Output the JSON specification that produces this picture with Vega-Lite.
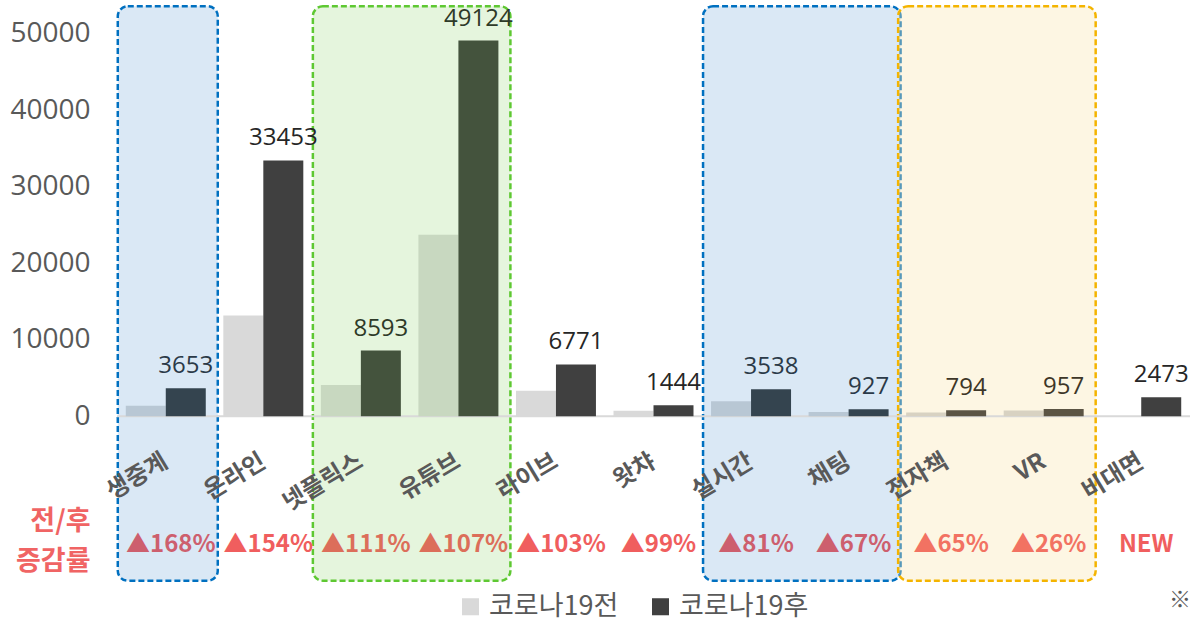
{
  "$schema": "https://vega.github.io/schema/vega-lite/v6.json",
  "autosize": {"type": "none"},
  "padding": {"left": 117, "top": 4, "right": 0, "bottom": 40},
  "width": 1073,
  "height": 579,
  "background": "white",
  "config": {"view": {"stroke": null}, "font": "Noto Sans CJK KR"},
  "title": {"text": "※", "orient": "bottom", "anchor": "end", "fontSize": 22, "fontWeight": "normal", "color": "#595959", "offset": -30},
  "datasets": {
    "bars": [
      {"cat": "생중계", "period": "코로나19전", "value": 1363, "theme": "blue"},
      {"cat": "생중계", "period": "코로나19후", "value": 3653, "theme": "blue"},
      {"cat": "온라인", "period": "코로나19전", "value": 13170, "theme": "none"},
      {"cat": "온라인", "period": "코로나19후", "value": 33453, "theme": "none"},
      {"cat": "넷플릭스", "period": "코로나19전", "value": 4073, "theme": "green"},
      {"cat": "넷플릭스", "period": "코로나19후", "value": 8593, "theme": "green"},
      {"cat": "유튜브", "period": "코로나19전", "value": 23731, "theme": "green"},
      {"cat": "유튜브", "period": "코로나19후", "value": 49124, "theme": "green"},
      {"cat": "라이브", "period": "코로나19전", "value": 3335, "theme": "none"},
      {"cat": "라이브", "period": "코로나19후", "value": 6771, "theme": "none"},
      {"cat": "왓챠", "period": "코로나19전", "value": 726, "theme": "none"},
      {"cat": "왓챠", "period": "코로나19후", "value": 1444, "theme": "none"},
      {"cat": "실시간", "period": "코로나19전", "value": 1955, "theme": "blue"},
      {"cat": "실시간", "period": "코로나19후", "value": 3538, "theme": "blue"},
      {"cat": "채팅", "period": "코로나19전", "value": 555, "theme": "blue"},
      {"cat": "채팅", "period": "코로나19후", "value": 927, "theme": "blue"},
      {"cat": "전자책", "period": "코로나19전", "value": 481, "theme": "yellow"},
      {"cat": "전자책", "period": "코로나19후", "value": 794, "theme": "yellow"},
      {"cat": "VR", "period": "코로나19전", "value": 760, "theme": "yellow"},
      {"cat": "VR", "period": "코로나19후", "value": 957, "theme": "yellow"},
      {"cat": "비대면", "period": "코로나19전", "value": 0, "theme": "none"},
      {"cat": "비대면", "period": "코로나19후", "value": 2473, "theme": "none"}
    ],
    "cats": [
      {"cat": "생중계", "theme": "blue", "change": "▲168%"},
      {"cat": "온라인", "theme": "none", "change": "▲154%"},
      {"cat": "넷플릭스", "theme": "green", "change": "▲111%"},
      {"cat": "유튜브", "theme": "green", "change": "▲107%"},
      {"cat": "라이브", "theme": "none", "change": "▲103%"},
      {"cat": "왓챠", "theme": "none", "change": "▲99%"},
      {"cat": "실시간", "theme": "blue", "change": "▲81%"},
      {"cat": "채팅", "theme": "blue", "change": "▲67%"},
      {"cat": "전자책", "theme": "yellow", "change": "▲65%"},
      {"cat": "VR", "theme": "yellow", "change": "▲26%"},
      {"cat": "비대면", "theme": "none", "change": "NEW"}
    ],
    "boxes": [
      {"start": "생중계", "end": "생중계", "theme": "blue"},
      {"start": "넷플릭스", "end": "유튜브", "theme": "green"},
      {"start": "실시간", "end": "채팅", "theme": "blue"},
      {"start": "전자책", "end": "VR", "theme": "yellow"}
    ]
  },
  "layer": [
    {
      "data": {"name": "boxes"},
      "mark": {"type": "rect", "cornerRadius": 10, "strokeDash": [6, 3], "strokeWidth": 2.5, "fillOpacity": 0.35, "xOffset": -8, "x2Offset": 12},
      "encoding": {
        "x": {"field": "start", "type": "nominal", "bandPosition": 0},
        "x2": {"field": "end", "bandPosition": 1},
        "y": {"datum": 53600, "type": "quantitative"},
        "y2": {"datum": -21500},
        "fill": {"field": "theme", "type": "nominal", "scale": {"domain": ["blue", "green", "yellow"], "range": ["#95bde2", "#b5e29e", "#f9e5af"]}, "legend": null},
        "stroke": {"field": "theme", "type": "nominal", "scale": {"domain": ["blue", "green", "yellow"], "range": ["#0070c0", "#5ec832", "#f4b400"]}, "legend": null}
      }
    },
    {
      "data": {"values": [{}]},
      "mark": {"type": "rule", "color": "#d9d9d9", "strokeWidth": 2},
      "encoding": {"y": {"datum": 0, "type": "quantitative"}}
    },
    {
      "data": {"name": "bars"},
      "mark": {"type": "bar"},
      "encoding": {
        "x": {
          "field": "cat", "type": "nominal",
          "scale": {"domain": ["생중계", "온라인", "넷플릭스", "유튜브", "라이브", "왓챠", "실시간", "채팅", "전자책", "VR", "비대면"], "paddingInner": 0.18, "paddingOuter": 0.09},
          "axis": {"orient": "bottom", "offset": -166, "title": null, "domain": false, "ticks": false, "grid": false, "labelAngle": -31, "labelAlign": "right", "labelBaseline": "top", "labelPadding": 32, "labelOffset": -6, "labelFontSize": 24, "labelFontWeight": "bold", "labelColor": "#595959", "labelFont": "Noto Sans CJK KR", "labelOverlap": false, "labelBound": false}
        },
        "xOffset": {"field": "period", "type": "nominal", "scale": {"domain": ["코로나19전", "코로나19후"], "paddingInner": 0, "paddingOuter": 0}},
        "y": {
          "field": "value", "type": "quantitative",
          "scale": {"domain": [-21800, 53900], "nice": false, "zero": false},
          "axis": {
            "title": null, "domain": false, "ticks": false,
            "values": [0, 10000, 20000, 30000, 40000, 50000, -13700],
            "labelExpr": "datum.value < 0 ? ['전/후', '증감률'] : format(datum.value, 'd')",
            "labelPadding": 27, "labelLineHeight": 40,
            "labelFont": {"condition": {"test": "datum.value < 0", "value": "Noto Sans CJK KR"}, "value": "Open Sans"},
            "labelFontSize": {"condition": {"test": "datum.value < 0", "value": 27}, "value": 28},
            "labelFontWeight": {"condition": {"test": "datum.value < 0", "value": "bold"}, "value": "normal"},
            "labelColor": {"condition": {"test": "datum.value < 0", "value": "#f06464"}, "value": "#595959"},
            "gridColor": "#ebebeb",
            "gridOpacity": {"condition": {"test": "datum.value < 0", "value": 0}, "value": 1}
          }
        },
        "color": {
          "field": "period", "type": "nominal",
          "scale": {"domain": ["코로나19전", "코로나19후"], "range": ["#d9d9d9", "#404040"]},
          "legend": {"title": null, "orient": "none", "legendX": 340, "legendY": 589, "direction": "horizontal", "symbolType": "square", "symbolSize": 290, "symbolStrokeWidth": 0, "labelFontSize": 27, "labelColor": "#595959", "labelFont": "Noto Sans CJK KR", "labelOffset": 5, "columnPadding": 28}
          ,
          "condition": [
            {"test": "datum.theme === 'blue' && datum.period === '코로나19전'", "value": "#b8c7d4"},
            {"test": "datum.theme === 'blue' && datum.period === '코로나19후'", "value": "#34444f"},
            {"test": "datum.theme === 'green' && datum.period === '코로나19전'", "value": "#c8d8c0"},
            {"test": "datum.theme === 'green' && datum.period === '코로나19후'", "value": "#44533d"},
            {"test": "datum.theme === 'yellow' && datum.period === '코로나19전'", "value": "#d8d2c2"},
            {"test": "datum.theme === 'yellow' && datum.period === '코로나19후'", "value": "#5b5444"}
          ]
        }
      }
    },
    {
      "data": {"name": "bars"},
      "transform": [{"filter": "datum.period === '코로나19후'"}],
      "mark": {"type": "text", "baseline": "bottom", "dy": -10, "fontSize": 24, "font": "Open Sans"},
      "encoding": {
        "x": {"field": "cat", "type": "nominal"},
        "xOffset": {"field": "period", "type": "nominal"},
        "y": {"field": "value", "type": "quantitative"},
        "text": {"field": "value", "type": "quantitative", "format": "d"},
        "color": {
          "condition": [
            {"test": "datum.theme === 'blue'", "value": "#2b3a48"},
            {"test": "datum.theme === 'green'", "value": "#2e3a28"},
            {"test": "datum.theme === 'yellow'", "value": "#3d3628"}
          ],
          "value": "#262626"
        }
      }
    },
    {
      "data": {"name": "cats"},
      "mark": {"type": "text", "fontSize": 24, "fontWeight": "bold", "font": "Noto Sans CJK KR", "dx": 5, "baseline": "middle"},
      "encoding": {
        "x": {"field": "cat", "type": "nominal"},
        "y": {"datum": -16800, "type": "quantitative"},
        "text": {"field": "change", "type": "nominal"},
        "color": {
          "condition": [
            {"test": "datum.theme === 'blue'", "value": "#cd5f6e"},
            {"test": "datum.theme === 'green'", "value": "#dc6e5a"},
            {"test": "datum.theme === 'yellow'", "value": "#f27262"}
          ],
          "value": "#f05e5e"
        }
      }
    }
  ]
}
